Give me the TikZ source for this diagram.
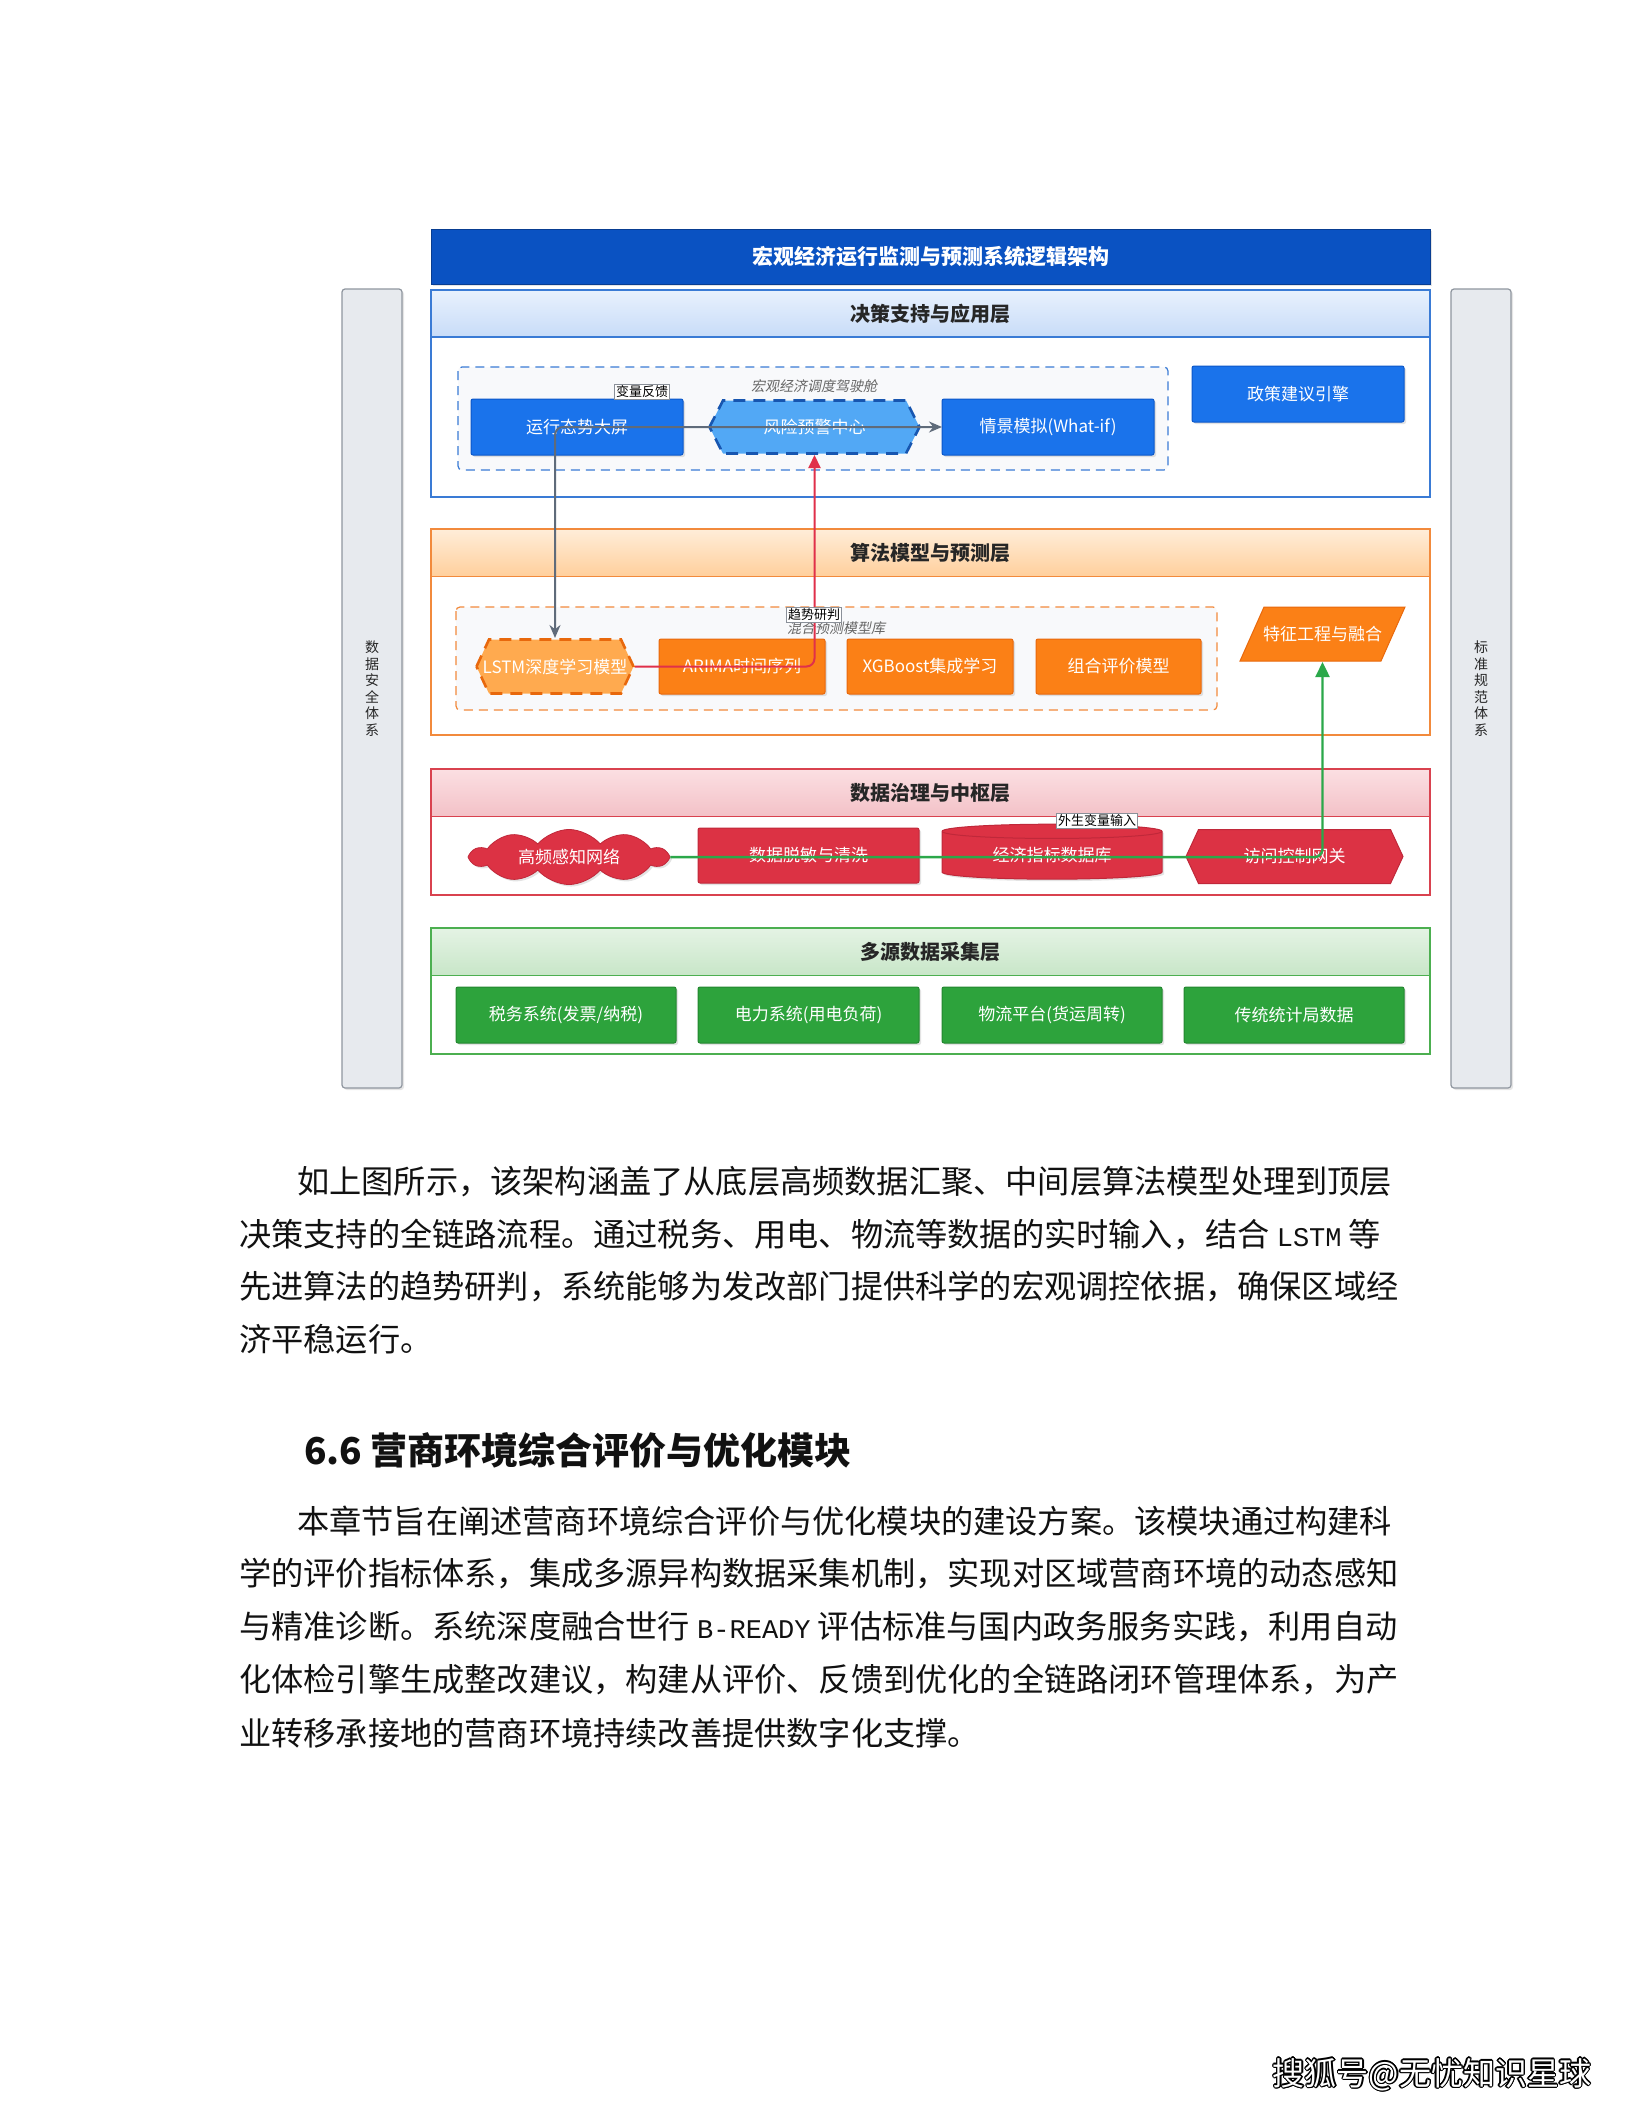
\documentclass[tikz,border=0pt]{standalone}
\usepackage{fontspec}
\setmainfont{Noto Sans CJK SC}
\newfontfamily\slantcjk[FakeSlant=0.2]{Noto Sans CJK SC}
\newfontfamily\latinmono{Liberation Mono}
\usepackage{xcolor}
\usepackage[copies]{contour}
\contourlength{1.2pt}
\usepackage{tikz}
\usetikzlibrary{arrows.meta,positioning,calc,shapes.symbols,shapes.geometric,shadows}
\definecolor{titleblue}{HTML}{0A52C2}
\definecolor{appblue}{HTML}{1A73EB}
\definecolor{appedge}{HTML}{0B57C9}
\definecolor{riskblue}{HTML}{52A8F5}
\definecolor{riskedge}{HTML}{1756B0}
\definecolor{layblue}{HTML}{3A7BD5}
\definecolor{headblueA}{HTML}{E8F1FD}
\definecolor{headblueB}{HTML}{C8DCF8}
\definecolor{algorange}{HTML}{FB8016}
\definecolor{algedge}{HTML}{E8680C}
\definecolor{lstmfill}{HTML}{FFAA4F}
\definecolor{layorange}{HTML}{F28A3C}
\definecolor{headorangeA}{HTML}{FFEDD8}
\definecolor{headorangeB}{HTML}{FFCF9C}
\definecolor{govred}{HTML}{DC3244}
\definecolor{govedge}{HTML}{C0283A}
\definecolor{layred}{HTML}{D9424F}
\definecolor{headredA}{HTML}{FBDFE2}
\definecolor{headredB}{HTML}{F3C1C7}
\definecolor{srcgreen}{HTML}{2DA33C}
\definecolor{srcedge}{HTML}{23862F}
\definecolor{laygreen}{HTML}{4CAF50}
\definecolor{headgreenA}{HTML}{E4F3E4}
\definecolor{headgreenB}{HTML}{C8E6C8}
\definecolor{barfill}{HTML}{E7EAEE}
\definecolor{baredge}{HTML}{8F969F}
\definecolor{linkgray}{HTML}{5F6B7A}
\definecolor{linkred}{HTML}{E0304A}
\definecolor{linkgreen}{HTML}{2BA84A}
\definecolor{groupfill}{HTML}{F8F9FB}
\definecolor{tagedge}{HTML}{8A9099}
\definecolor{bodytext}{HTML}{111111}
\tikzset{
  box/.style={rectangle,rounded corners=2,minimum height=56,inner sep=0pt,outer sep=0pt,
    text=white,font=\fontsize{17}{20}\selectfont,line width=1pt,
    drop shadow={opacity=0.22,shadow xshift=2pt,shadow yshift=-2pt}},
  bluebox/.style={box,fill=appblue,draw=appedge},
  orangebox/.style={box,fill=algorange,draw=algedge},
  redbox/.style={box,fill=govred,draw=govedge},
  greenbox/.style={box,fill=srcgreen,draw=srcedge},
  hexnode/.style n args={3}{rectangle,inner sep=0pt,outer sep=0pt,minimum height=56,
    text=white,font=\fontsize{17}{20}\selectfont,
    path picture={\filldraw[fill=#1,#2]
      ($(path picture bounding box.west)+(1.5,0)$) -- ($(path picture bounding box.north west)+(#3,1.5)$)
      -- ($(path picture bounding box.north east)+(-#3,1.5)$) -- ($(path picture bounding box.east)+(-1.5,0)$)
      -- ($(path picture bounding box.south east)+(-#3,-1.5)$) -- ($(path picture bounding box.south west)+(#3,-1.5)$) -- cycle;}},
  layerhead/.style={rectangle,minimum width=999,minimum height=47,inner sep=0pt,line width=1.2pt,
    font=\fontsize{20}{24}\selectfont\bfseries,text=black!85},
  layerbody/.style={line width=1.2pt,fill=white},
  groupbox/.style={line width=1.2pt,dash pattern=on 9pt off 6pt,rounded corners=4,fill=groupfill},
  grouplabel/.style={font=\slantcjk\fontsize{14}{16}\selectfont,text=black!60,inner sep=1pt},
  tag/.style={fill=white,draw=tagedge,line width=0.8pt,inner sep=1.5pt,font=\fontsize{13}{15}\selectfont,text=black},
  sidebar/.style={rectangle,rounded corners=3,fill=barfill,draw=baredge,line width=1.2pt,minimum width=60,
    minimum height=799,inner sep=0pt,align=center,font=\fontsize{14}{16.5}\selectfont,text=black!85,
    drop shadow={opacity=0.2,shadow xshift=2pt,shadow yshift=-2pt}},
  paraline/.style={anchor=west,inner sep=0pt,font=\fontsize{32.2}{38}\selectfont,text=bodytext}
}

\begin{document}
\begin{tikzpicture}[x=1pt,y=-1pt]
  \useasboundingbox (0,0) rectangle (1632,2112);
  \fill[white] (0,0) rectangle (1632,2112);
  % side bars
  \node[sidebar] (secbar) at (372,688.5) {数\\据\\安\\全\\体\\系};
  \node[sidebar] (stdbar) at (1481,688.5) {标\\准\\规\\范\\体\\系};
  \node[rectangle,fill=titleblue,draw=titleblue!75!black,minimum width=999,minimum height=55,inner sep=0pt,
        text=white,font=\fontsize{21}{24}\selectfont\bfseries,
        drop shadow={opacity=0.2,shadow xshift=2pt,shadow yshift=-2pt}] (title) at (930.5,256.5)
        {宏观经济运行监测与预测系统逻辑架构};
  % decision layer
  \draw[layerbody,draw=layblue] (431,290) rectangle (1430,497);
  \node[layerhead,draw=layblue,top color=headblueA,bottom color=headblueB] (apphead) at (930.5,313.5) {决策支持与应用层};
  \draw[groupbox,draw=layblue] (458,367) rectangle (1168,470);
  \node[grouplabel] (cockpit) at (814,386) {宏观经济调度驾驶舱};
  \node[bluebox,minimum width=212] (screen) at (577,427) {运行态势大屏};
  \node[hexnode={riskblue}{draw=riskedge,line width=2.6pt,dash pattern=on 12pt off 8pt}{15},minimum width=213] (risk) at (814.5,427) {风险预警中心};
  \node[bluebox,minimum width=212] (whatif) at (1048,427) {情景模拟(What-if)};
  \node[bluebox,minimum width=212] (policy) at (1298,394) {政策建议引擎};
  % model layer
  \draw[layerbody,draw=layorange] (431,529) rectangle (1430,735);
  \node[layerhead,draw=layorange,top color=headorangeA,bottom color=headorangeB] (alghead) at (930.5,553) {算法模型与预测层};
  \draw[groupbox,draw=layorange] (456,607) rectangle (1217,710);
  \node[grouplabel] (modellib) at (836,628) {混合预测模型库};
  \node[hexnode={lstmfill}{draw=algedge,line width=2.6pt,dash pattern=on 12pt off 8pt}{14},minimum width=160,minimum height=57] (lstm) at (555,666.5) {LSTM深度学习模型};
  \node[orangebox,minimum width=166,minimum height=55] (arima) at (742,666.5) {ARIMA时间序列};
  \node[orangebox,minimum width=166,minimum height=55] (xgb) at (930,666.5) {XGBoost集成学习};
  \node[orangebox,minimum width=165,minimum height=55] (combo) at (1118.5,666.5) {组合评价模型};
  \node[rectangle,inner sep=0pt,outer sep=0pt,minimum width=167,minimum height=56,text=white,font=\fontsize{17}{20}\selectfont,
        path picture={\filldraw[fill=algorange,draw=algedge,line width=1pt]
          ($(path picture bounding box.south west)+(1,-1)$) -- ($(path picture bounding box.north west)+(25,1)$)
          -- ($(path picture bounding box.north east)+(-1,1)$) -- ($(path picture bounding box.south east)+(-25,-1)$) -- cycle;}]
        (feat) at (1322.5,634) {特征工程与融合};
  % governance layer
  \draw[layerbody,draw=layred] (431,769) rectangle (1430,895);
  \node[layerhead,draw=layred,top color=headredA,bottom color=headredB] (govhead) at (930.5,793) {数据治理与中枢层};
  \node[cloud,cloud puffs=10,cloud puff arc=100,aspect=4,fill=govred,draw=govedge,line width=0.8pt,minimum width=196,minimum height=48,inner sep=0pt,
        text=white,font=\fontsize{17}{20}\selectfont,drop shadow={opacity=0.22,shadow xshift=2pt,shadow yshift=-2pt}] (sensor) at (569,857) {高频感知网络};
  \node[redbox,minimum width=221,minimum height=55] (clean) at (808.5,855.5) {数据脱敏与清洗};
  \node[cylinder,shape border rotate=90,aspect=0.12,fill=govred,draw=govedge,line width=1pt,minimum width=220,minimum height=55,
        inner sep=0pt,text=white,font=\fontsize{17}{20}\selectfont,drop shadow={opacity=0.22,shadow xshift=2pt,shadow yshift=-2pt}] (econdb) at (1052,855.5) {经济指标数据库};
  \node[hexnode={govred}{draw=govedge,line width=1pt}{14},minimum width=220,minimum height=57] (gate) at (1294.5,856.5) {访问控制网关};
  % source layer
  \draw[layerbody,draw=laygreen] (431,928) rectangle (1430,1054);
  \node[layerhead,draw=laygreen,top color=headgreenA,bottom color=headgreenB] (srchead) at (930.5,952) {多源数据采集层};
  \node[greenbox,minimum width=220] (tax) at (566,1015) {税务系统(发票/纳税)};
  \node[greenbox,minimum width=221] (power) at (808.5,1015) {电力系统(用电负荷)};
  \node[greenbox,minimum width=220] (logis) at (1052,1015) {物流平台(货运周转)};
  \node[greenbox,minimum width=220] (stats) at (1294,1015) {传统统计局数据};
  % links
  \draw[linkgray,line width=2pt,rounded corners=8,{Stealth[length=13pt,width=11pt]}-{Stealth[length=13pt,width=11pt]}] (lstm.north) |- (whatif.west);
  \draw[linkred,line width=2pt,rounded corners=8,-{Triangle[length=13pt,width=12pt]}] (lstm.east) -| (risk.south);
  \draw[linkgreen,line width=2.4pt,rounded corners=8,-{Triangle[length=15pt,width=14pt]}] (sensor.east) -| (feat.south);
  \node[tag] (fbtag) at (642,392) {变量反馈};
  \node[tag] (trendtag) at (814,615) {趋势研判};
  \node[tag] (exotag) at (1097,821) {外生变量输入};
  % text below
  \node[paraline] (pa1) at (297,1182) {如上图所示，该架构涵盖了从底层高频数据汇聚、中间层算法模型处理到顶层};
  \node[paraline] (pa2) at (239,1235) {决策支持的全链路流程。通过税务、用电、物流等数据的实时输入，结合 {\latinmono\fontsize{27}{30}\selectfont LSTM} 等};
  \node[paraline] (pa3) at (239,1287) {先进算法的趋势研判，系统能够为发改部门提供科学的宏观调控依据，确保区域经};
  \node[paraline] (pa4) at (239,1339) {济平稳运行。};
  \node[anchor=west,inner sep=0pt,font=\fontsize{37}{44}\selectfont\bfseries,text=bodytext] (sec66) at (304,1450) {6.6 营商环境综合评价与优化模块};
  \node[paraline] (pb1) at (297,1521) {本章节旨在阐述营商环境综合评价与优化模块的建设方案。该模块通过构建科};
  \node[paraline] (pb2) at (239,1574) {学的评价指标体系，集成多源异构数据采集机制，实现对区域营商环境的动态感知};
  \node[paraline] (pb3) at (239,1627) {与精准诊断。系统深度融合世行 {\latinmono\fontsize{27}{30}\selectfont B-READY} 评估标准与国内政务服务实践，利用自动};
  \node[paraline] (pb4) at (239,1680) {化体检引擎生成整改建议，构建从评价、反馈到优化的全链路闭环管理体系，为产};
  \node[paraline] (pb5) at (239,1733) {业转移承接地的营商环境持续改善提供数字化支撑。};
  \node[inner sep=0pt,font=\fontsize{32}{36}\selectfont] (sohu) at (1432,2075) {\contour{black}{\textcolor{white}{搜狐号@无忧知识星球}}};
\end{tikzpicture}
\end{document}
